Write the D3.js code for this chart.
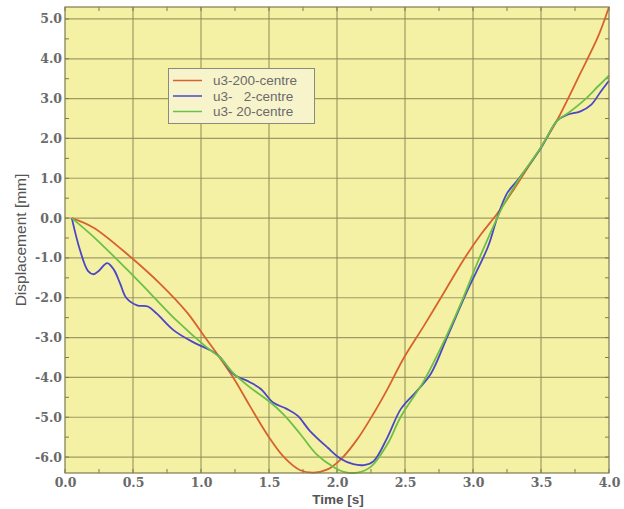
<!DOCTYPE html>
<html>
<head>
<meta charset="utf-8">
<script src="https://cdn.jsdelivr.net/npm/d3@7/dist/d3.min.js"></script>
<style>
  html, body { margin: 0; padding: 0; background: #ffffff; }
  svg { display: block; }
</style>
</head>
<body>
<svg id="chart" width="624" height="509"></svg>
<script>
// ---------- data ----------
const seriesNames = ["u3-200-centre", "u3-   2-centre", "u3- 20-centre"];
const seriesColors = ["#d8622e", "#4a46c8", "#6cc046"];

const redT = [0.05, 0.21, 0.48, 0.70, 0.90, 1.02, 1.12, 1.24, 1.36, 1.49, 1.61, 1.73, 1.83, 1.93, 2.03, 2.15, 2.27, 2.37, 2.49, 2.64, 2.79, 2.93, 3.06, 3.18, 3.30, 3.40, 3.50, 3.62, 3.79, 3.92, 4.00];
const redV = [0, -0.24, -0.97, -1.65, -2.38, -2.95, -3.42, -4.02, -4.72, -5.45, -6.0, -6.33, -6.39, -6.31, -6.05, -5.55, -4.9, -4.3, -3.52, -2.7, -1.85, -1.05, -0.4, 0.12, 0.72, 1.25, 1.78, 2.47, 3.64, 4.56, 5.30];

const blueT = [0.05, 0.11, 0.17, 0.21, 0.25, 0.31, 0.36, 0.405, 0.45, 0.53, 0.61, 0.675, 0.80, 0.945, 1.07, 1.14, 1.24, 1.36, 1.44, 1.53, 1.63, 1.71, 1.80, 1.93, 2.03, 2.12, 2.20, 2.27, 2.37, 2.47, 2.59, 2.69, 2.81, 2.96, 3.11, 3.18, 3.25, 3.33, 3.50, 3.62, 3.69, 3.79, 3.87, 3.94, 4.00];
const blueV = [0, -0.8, -1.33, -1.41, -1.32, -1.13, -1.3, -1.64, -2.0, -2.19, -2.22, -2.40, -2.82, -3.12, -3.32, -3.49, -3.92, -4.12, -4.29, -4.63, -4.79, -4.96, -5.34, -5.76, -6.05, -6.18, -6.2, -6.1, -5.51, -4.79, -4.33, -3.91, -2.99, -1.81, -0.72, 0.03, 0.62, 0.96, 1.76, 2.45, 2.59, 2.68, 2.85, 3.18, 3.45];

const greenT = [0.05, 0.21, 0.45, 0.63, 0.82, 1.04, 1.14, 1.24, 1.36, 1.50, 1.61, 1.73, 1.85, 1.98, 2.05, 2.15, 2.25, 2.37, 2.47, 2.64, 2.79, 2.91, 3.03, 3.16, 3.23, 3.35, 3.50, 3.62, 3.70, 3.82, 3.92, 4.00];
const greenV = [0, -0.47, -1.27, -1.9, -2.57, -3.24, -3.5, -3.9, -4.25, -4.6, -4.94, -5.42, -5.93, -6.26, -6.37, -6.39, -6.24, -5.68, -4.98, -4.08, -3.07, -2.15, -1.14, -0.13, 0.37, 1.04, 1.78, 2.45, 2.64, 2.97, 3.31, 3.58];

const xTicks = [0, 0.5, 1.0, 1.5, 2.0, 2.5, 3.0, 3.5, 4.0];
const yTicks = [-6, -5, -4, -3, -2, -1, 0, 1, 2, 3, 4, 5];
const xMinorTicks = [0.25, 0.75, 1.25, 1.75, 2.25, 2.75, 3.25, 3.75];
const yMinorTicks = [-5.5, -4.5, -3.5, -2.5, -1.5, -0.5, 0.5, 1.5, 2.5, 3.5, 4.5];
const xLabel = "Time [s]";
const yLabel = "Displacement [mm]";

// ---------- layout ----------
const svg = d3.select("#chart");
const L = 65, R = 609, T = 7, B = 473;
const x = d3.scaleLinear().domain([0, 4]).range([L, R]);
const y = d3.scaleLinear().domain([-6.4, 5.3]).range([B, T]);

const series = [
  {name: seriesNames[0], color: seriesColors[0], t: redT, v: redV},
  {name: seriesNames[1], color: seriesColors[1], t: blueT, v: blueV},
  {name: seriesNames[2], color: seriesColors[2], t: greenT, v: greenV}
];

// background
svg.append("rect").attr("x", L).attr("y", T).attr("width", R - L).attr("height", B - T)
  .attr("fill", "#f5f1a4");

// grid
const gridColor = "#8f8c5a";
svg.append("g").selectAll("line").data(xTicks.slice(1, -1)).join("line")
  .attr("x1", d => x(d)).attr("x2", d => x(d)).attr("y1", T).attr("y2", B)
  .attr("stroke", gridColor).attr("stroke-width", 1.2).attr("opacity", 0.85);
svg.append("g").selectAll("line").data(yTicks).join("line")
  .attr("x1", L).attr("x2", R).attr("y1", d => y(d)).attr("y2", d => y(d))
  .attr("stroke", gridColor).attr("stroke-width", 1.2).attr("opacity", 0.85);

// axes using d3 axis generators (tick labels)
const fmt = d => d.toFixed(1);
const xAxis = svg.append("g").attr("transform", `translate(0,${B})`)
  .call(d3.axisBottom(x).tickValues(xTicks).tickFormat(fmt).tickSize(0).tickPadding(5));
const yAxis = svg.append("g").attr("transform", `translate(${L},0)`)
  .call(d3.axisLeft(y).tickValues(yTicks).tickFormat(fmt).tickSize(0).tickPadding(3));
[xAxis, yAxis].forEach(a => {
  a.select(".domain").remove();
  a.selectAll("text").attr("font-family", "'DejaVu Serif', serif").attr("font-weight", "bold")
    .attr("font-size", 12.5).attr("fill", "#6a6a6a");
});

// minor/major inward ticks on all four sides
const tickG = svg.append("g").attr("stroke", "#7d7b50").attr("stroke-width", 1);
const allX = xTicks.concat(xMinorTicks);
const allY = yTicks.concat(yMinorTicks);
tickG.selectAll(".tb").data(allX).join("line")
  .attr("x1", d => x(d)).attr("x2", d => x(d)).attr("y1", B).attr("y2", B - 4);
tickG.selectAll(".tt").data(allX).join("line")
  .attr("x1", d => x(d)).attr("x2", d => x(d)).attr("y1", T).attr("y2", T + 4);
tickG.selectAll(".tl").data(allY).join("line")
  .attr("x1", L).attr("x2", L + 4).attr("y1", d => y(d)).attr("y2", d => y(d));
tickG.selectAll(".tr").data(allY).join("line")
  .attr("x1", R).attr("x2", R - 4).attr("y1", d => y(d)).attr("y2", d => y(d));

// lines
const line = d3.line().x(d => x(d[0])).y(d => y(d[1])).curve(d3.curveCatmullRom.alpha(0.5));
svg.append("g").selectAll("path").data(series).join("path")
  .attr("d", s => line(s.t.map((t, i) => [t, s.v[i]])))
  .attr("fill", "none").attr("stroke", s => s.color).attr("stroke-width", 1.8)
  .attr("stroke-linejoin", "round");

// frame
svg.append("rect").attr("x", L).attr("y", T).attr("width", R - L).attr("height", B - T)
  .attr("fill", "none").attr("stroke", "#7d7b50").attr("stroke-width", 1.2);

// axis labels
svg.append("text").attr("x", 338).attr("y", 504).attr("text-anchor", "middle")
  .attr("font-family", "'Liberation Sans', Arial, sans-serif").attr("font-weight", "bold")
  .attr("font-size", 13.5).attr("fill", "#555").text(xLabel);
svg.append("text").attr("transform", "translate(26,240) rotate(-90)").attr("text-anchor", "middle")
  .attr("font-family", "'Liberation Sans', Arial, sans-serif")
  .attr("font-size", 15.5).attr("fill", "#555").text(yLabel);

// legend
const lg = svg.append("g");
lg.append("rect").attr("x", 168.5).attr("y", 68.5).attr("width", 146).attr("height", 55)
  .attr("fill", "#f7f4cc").attr("stroke", "#8a8a80").attr("stroke-width", 1);
const legY = [80.5, 96, 111.5];
series.forEach((s, i) => {
  lg.append("line").attr("x1", 173).attr("x2", 202).attr("y1", legY[i]).attr("y2", legY[i])
    .attr("stroke", s.color).attr("stroke-width", 1.5);
  lg.append("text").attr("x", 213).attr("y", legY[i] + 4.5)
    .attr("font-family", "'Liberation Sans', Arial, sans-serif").attr("font-size", 13.5)
    .attr("fill", "#6a6a6a").style("white-space", "pre").text(s.name);
});
</script>
</body>
</html>
